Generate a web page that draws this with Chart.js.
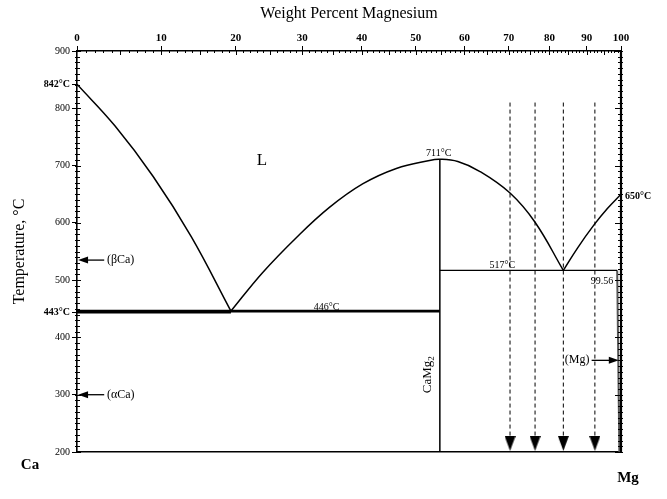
<!DOCTYPE html>
<html>
<head>
<meta charset="utf-8">
<title>Ca-Mg phase diagram</title>
<script src="https://cdn.jsdelivr.net/npm/chart.js@4.4.1/dist/chart.umd.min.js"></script>
<style>
  html, body { margin: 0; padding: 0; background: #fff; }
  #wrap { position: relative; width: 667px; height: 499px; }
</style>
</head>
<body>
<div id="wrap"><canvas id="c"></canvas></div>
<script>
// plot is linear in atomic % Mg, top axis is labelled in weight % Mg
const wtTicks = [0, 10, 20, 30, 40, 50, 60, 70, 80, 90, 100];
const tempTicks = [200, 300, 400, 500, 600, 700, 800, 900];
const markedTemps = [842, 443];

// [at.% Mg, temperature C]
const liqCa = [[0, 842], [7, 769], [14, 681], [21, 576], [28.3, 446]];
const liqComp = [[28.3, 446], [34.1, 513], [40.4, 575], [46.4, 627], [52.5, 668], [58.7, 695], [64.8, 709], [66.7, 711],
  [70, 707], [74, 690], [79.6, 652], [84.2, 601], [89.4, 517]];
const liqMg = [[89.4, 517], [92, 556], [95, 596], [97.5, 625], [100, 650]];
const eut446 = [[0, 446], [66.7, 446]];
const trans443 = [[0, 443], [28.3, 443]];
const eut517 = [[66.7, 517], [99.3, 517]];
const compoundLine = [[66.7, 711], [66.7, 200]];
const mgSolvus = [[99.3, 517], [99.7, 200]];
const arrowX = [79.6, 84.2, 89.4, 95.2];
const arrowTop = 810;
const arrowEnd = 215;

const serif = "'Liberation Serif', 'DejaVu Serif', serif";
const ink = '#000';
Chart.defaults.font.family = serif;
Chart.defaults.color = ink;

const wtToAt = w => {
  const mg = w / 24.305, ca = (100 - w) / 40.078;
  return 100 * mg / (mg + ca);
};
const pts = arr => arr.map(p => ({ x: p[0], y: p[1] }));

// downward arrow head used as the end point of the dashed lines
const arrowImg = document.createElement('canvas');
arrowImg.width = 11; arrowImg.height = 15;
(() => {
  const g = arrowImg.getContext('2d');
  g.fillStyle = ink;
  g.beginPath(); g.moveTo(0, 0); g.lineTo(11, 0); g.lineTo(5.5, 15); g.closePath(); g.fill();
})();

const line = (data, extra) => Object.assign({
  data: pts(data), showLine: true, borderColor: ink, borderWidth: 1.5,
  pointRadius: 0, fill: false
}, extra || {});

const datasets = [
  line(liqCa, { tension: 0.4 }),
  line(liqComp, { tension: 0.4 }),
  line(liqMg, { tension: 0.4 }),
  line(eut446, { borderWidth: 2.6 }),
  line(trans443, { borderWidth: 1.4 }),
  line(eut517, { borderWidth: 1.3 }),
  line(compoundLine, { borderWidth: 1.5 }),
  line(mgSolvus, { borderWidth: 2, borderColor: '#555' })
];
arrowX.forEach(ax => {
  datasets.push(line([[ax, arrowTop], [ax, arrowEnd]], {
    borderWidth: 1, borderDash: [4, 3],
    pointRadius: [0, 6], pointStyle: arrowImg
  }));
});

// text notes placed in data coordinates
const notes = [
  { t: 'L', x: 34, y: 709, size: 17 },
  { t: '711°C', x: 66.5, y: 716, size: 10, base: 'alphabetic' },
  { t: '517°C', x: 78.2, y: 522, size: 10, base: 'alphabetic' },
  { t: '99.56', x: 96.5, y: 494, size: 10, base: 'alphabetic' },
  { t: '446°C', x: 45.9, y: 448, size: 10, base: 'alphabetic' },
  { t: '(βCa)', x: 5.5, y: 535, size: 12, align: 'left' },
  { t: '(αCa)', x: 5.5, y: 300, size: 12, align: 'left' },
  { t: '(Mg)', x: 94.2, y: 360, size: 12, align: 'right' }
];
const pointers = [
  { from: 5, to: 0.2, y: 535 },
  { from: 5, to: 0.2, y: 300 },
  { from: 94.6, to: 99.6, y: 360 }
];

const annot = {
  id: 'annot',
  afterDraw(chart) {
    const { ctx, chartArea: a, scales: { x, y } } = chart;
    ctx.save();
    ctx.fillStyle = ink; ctx.strokeStyle = ink;

    // minor ticks on left, right and top axes
    ctx.lineWidth = 1;
    ctx.beginPath();
    for (let t = 200; t <= 900; t += 10) {
      const py = Math.round(y.getPixelForValue(t)) + 0.5;
      const big = t % 100 === 0;
      ctx.moveTo(a.left - 2, py); ctx.lineTo(a.left + (big ? 4 : 3), py);
      ctx.moveTo(a.right - (big ? 6 : 3), py); ctx.lineTo(a.right + 2, py);
    }
    for (let w = 1; w < 100; w++) {
      const px = Math.round(x.getPixelForValue(wtToAt(w))) + 0.5;
      const len = w % 5 === 0 ? 4 : 2;
      ctx.moveTo(px, a.top); ctx.lineTo(px, a.top + len);
    }
    ctx.stroke();

    // thick right edge
    ctx.lineWidth = 2.2;
    ctx.beginPath(); ctx.moveTo(a.right, a.top); ctx.lineTo(a.right, a.bottom); ctx.stroke();

    notes.forEach(n => {
      ctx.font = (n.bold ? 'bold ' : '') + n.size + 'px ' + serif;
      ctx.textAlign = n.align || 'center';
      ctx.textBaseline = n.base || 'middle';
      ctx.fillText(n.t, x.getPixelForValue(n.x), y.getPixelForValue(n.y));
    });

    // pointer arrows
    ctx.lineWidth = 1.3;
    pointers.forEach(p => {
      const x0 = x.getPixelForValue(p.from), x1 = x.getPixelForValue(p.to);
      const py = y.getPixelForValue(p.y);
      const dir = Math.sign(x1 - x0);
      ctx.beginPath(); ctx.moveTo(x0, py); ctx.lineTo(x1 - dir * 6, py); ctx.stroke();
      ctx.beginPath();
      ctx.moveTo(x1, py); ctx.lineTo(x1 - dir * 10, py - 3.5); ctx.lineTo(x1 - dir * 10, py + 3.5);
      ctx.closePath(); ctx.fill();
    });

    // 650 label right of the frame
    ctx.font = 'bold 10px ' + serif;
    ctx.textAlign = 'left'; ctx.textBaseline = 'middle';
    ctx.fillText('650°C', a.right + 4, y.getPixelForValue(646));

    // compound label, rotated
    ctx.save();
    ctx.translate(x.getPixelForValue(64.4), y.getPixelForValue(335));
    ctx.rotate(-Math.PI / 2);
    ctx.font = '13px ' + serif;
    ctx.textAlign = 'left'; ctx.textBaseline = 'middle';
    const w1 = ctx.measureText('CaMg').width;
    ctx.font = '9px ' + serif;
    const w2 = ctx.measureText('2').width;
    ctx.font = '13px ' + serif;
    ctx.fillText('CaMg', -(w1 + w2) / 2, 0);
    ctx.font = '9px ' + serif;
    ctx.fillText('2', -(w1 + w2) / 2 + w1, 4);
    ctx.restore();

    // end members
    ctx.font = 'bold 15px ' + serif;
    ctx.textAlign = 'center'; ctx.textBaseline = 'middle';
    ctx.fillText('Ca', 30, 465);
    ctx.fillText('Mg', 628, 478);
    ctx.restore();
  }
};

const noPad = s => { s.paddingTop = 0; s.paddingBottom = 0; s.paddingLeft = 0; s.paddingRight = 0; };

new Chart(document.getElementById('c'), {
  type: 'scatter',
  data: { datasets },
  options: {
    responsive: true,
    maintainAspectRatio: false,
    animation: false,
    layout: { padding: { left: 0, top: 0, right: 46, bottom: 47 } },
    plugins: { legend: { display: false }, tooltip: { enabled: false } },
    scales: {
      x: {
        type: 'linear', position: 'top', min: 0, max: 100,
        afterFit(s) { s.height = 51; noPad(s); },
        afterBuildTicks(s) { s.ticks = wtTicks.map(w => ({ value: wtToAt(w) })); },
        ticks: {
          autoSkip: false, maxRotation: 0, padding: 1,
          font: { size: 11, weight: 'bold' },
          callback: (v, i) => wtTicks[i]
        },
        grid: { drawOnChartArea: false, tickLength: 5, color: ink },
        border: { color: ink, width: 1.6 },
        title: {
          display: true, text: 'Weight Percent Magnesium',
          font: { size: 16 }, padding: { top: 4, bottom: 0 }
        }
      },
      xb: {
        type: 'linear', position: 'bottom', min: 0, max: 100,
        afterFit(s) { s.height = 0; noPad(s); },
        ticks: { display: false },
        grid: { drawOnChartArea: false, drawTicks: false },
        border: { color: ink, width: 1.6 }
      },
      y: {
        type: 'linear', min: 200, max: 900,
        afterFit(s) { s.width = 77; noPad(s); },
        afterBuildTicks(s) {
          s.ticks = tempTicks.concat(markedTemps).sort((p, q) => p - q).map(v => ({ value: v }));
        },
        ticks: {
          autoSkip: false, padding: 2,
          font: c => markedTemps.includes(c.tick && c.tick.value)
            ? { size: 10, weight: 'bold' } : { size: 10 },
          callback: v => markedTemps.includes(v) ? v + '°C' : v
        },
        grid: { drawOnChartArea: false, tickLength: 5, color: ink },
        border: { color: ink, width: 1.6 },
        title: {
          display: true, text: 'Temperature, °C',
          font: { size: 16 }, padding: { top: 10, bottom: 0 }
        }
      }
    }
  },
  plugins: [annot]
});
</script>
</body>
</html>
